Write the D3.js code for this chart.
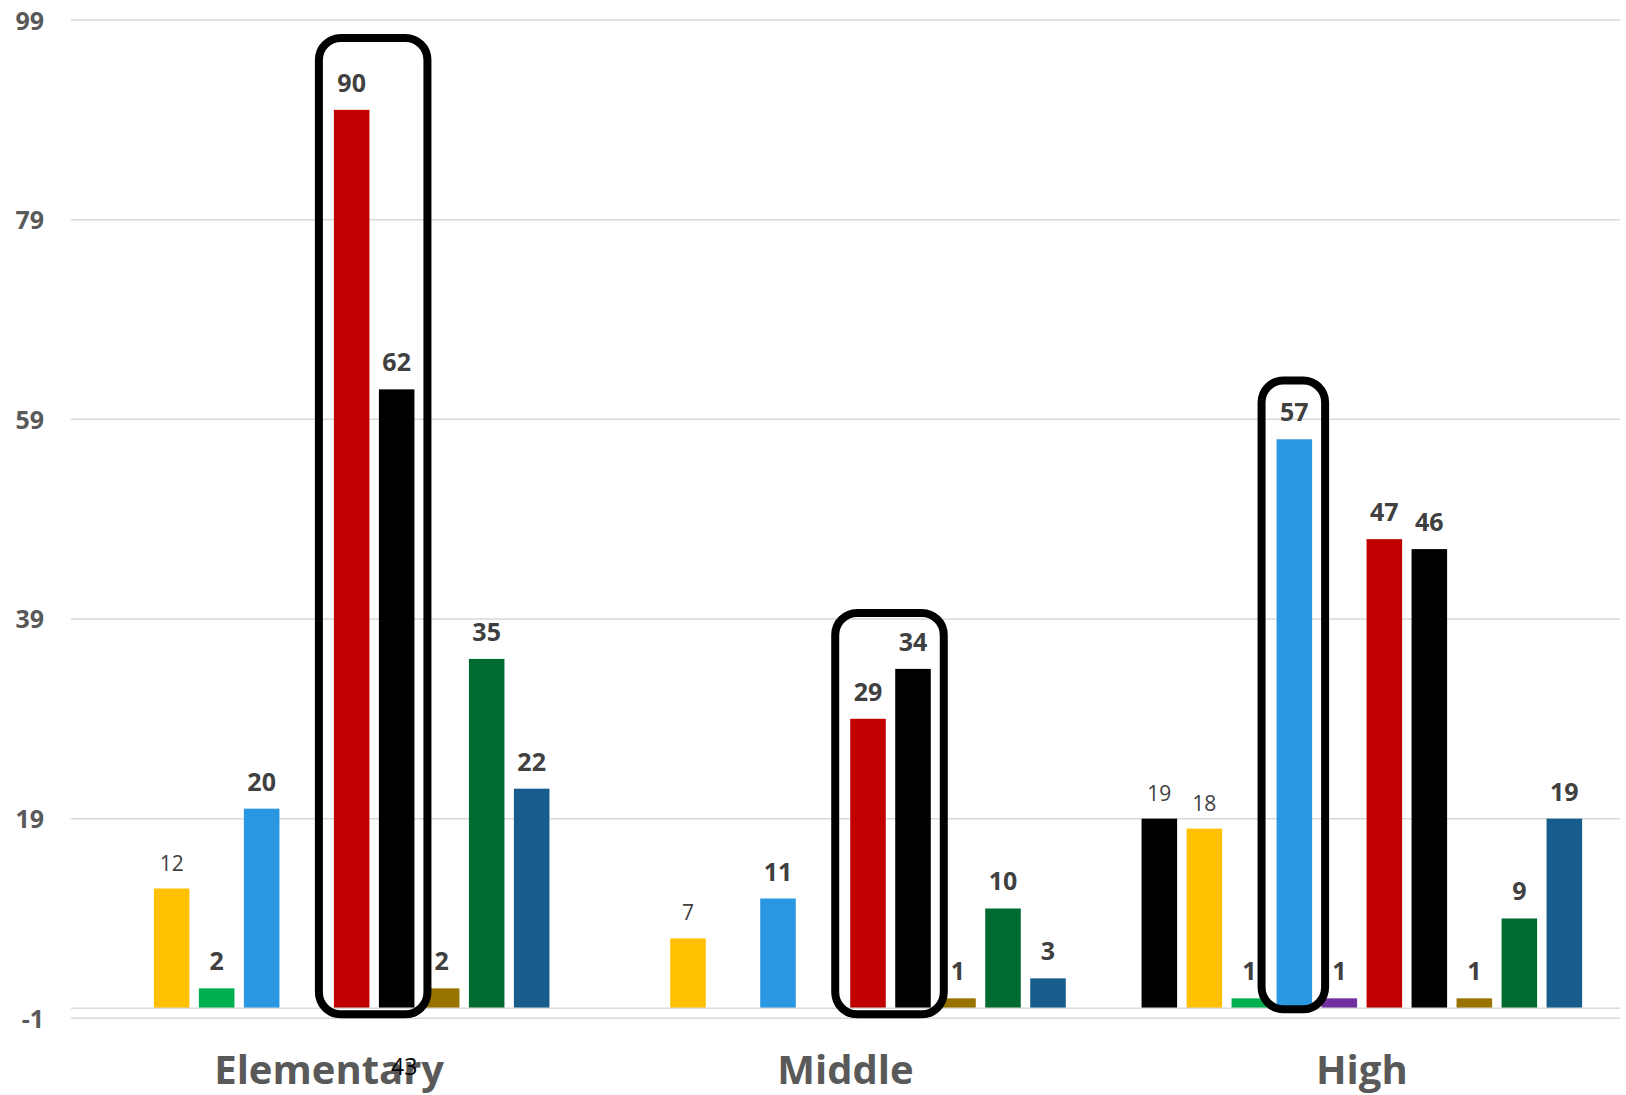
<!DOCTYPE html>
<html>
<head>
<meta charset="utf-8">
<script src="https://cdn.jsdelivr.net/npm/d3@7"></script>
<style>
  html, body { margin: 0; padding: 0; background: #ffffff; }
  svg { display: block; font-family: "Open Sans", Lato, "Noto Sans", sans-serif; }
</style>
</head>
<body>
<svg id="chart" width="1626" height="1095"></svg>
<script>
// School levels on the category axis
const categories = ["Elementary", "Middle", "High"];

// Series keys, drawn left to right inside each level
const seriesKeys = ["s1", "s2", "s3", "s4", "s5", "s6", "s7", "s8", "s9", "s10"];

// Values per series, one entry per level (null = no bar)
const s1  = [null, null, 19];
const s2  = [12, 7, 18];
const s3  = [2, null, 1];
const s4  = [20, 11, 57];
const s5  = [null, null, 1];
const s6  = [90, 29, 47];
const s7  = [62, 34, 46];
const s8  = [2, 1, 1];
const s9  = [35, 10, 9];
const s10 = [22, 3, 19];
const seriesValues = [s1, s2, s3, s4, s5, s6, s7, s8, s9, s10];

// Series fills
const seriesColors = ["#000000", "#FFC000", "#00B050", "#2997E1", "#7030A0",
                      "#C00000", "#000000", "#997300", "#006B31", "#165C8D"];

// Series whose value labels use the lighter weight
const plainLabelSeries = ["s1", "s2"];

// Value axis ticks
const yTicks = [-1, 19, 39, 59, 79, 99];

// Highlight frames: level, first and last series enclosed, top and bottom values
const frameCategory = ["Elementary", "Middle", "High"];
const frameFrom     = ["s6", "s6", "s4"];
const frameTo       = ["s7", "s7", "s4"];
const frameTop      = [97.2, 39.6, 62.9];
const frameBottom   = [-0.6, -0.6, -0.1];

// Free-standing note under the first level
const noteCategory = ["Elementary"];
const noteSeries   = ["s7"];
const noteText     = ["43"];

// ---- layout ----
const W = 1626, H = 1095;
const margin = { top: 20, right: 6, bottom: 76.7, left: 71 };
const FONT = "'Open Sans', Lato, sans-serif";

const svg = d3.select("#chart");

const x0 = d3.scaleBand()
  .domain(categories)
  .range([margin.left, W - margin.right])
  .padding(0);

const x1 = d3.scaleBand()
  .domain(seriesKeys)
  .range([0, x0.bandwidth()])
  .paddingInner(0.21)
  .paddingOuter(0.842);

const y = d3.scaleLinear()
  .domain([-1, 99])
  .range([H - margin.bottom, margin.top]);

// ---- gridlines ----
svg.append("g")
  .selectAll("line")
  .data(yTicks)
  .join("line")
  .attr("x1", margin.left)
  .attr("x2", W - margin.right)
  .attr("y1", d => y(d))
  .attr("y2", d => y(d))
  .attr("stroke", "#d9d9d9")
  .attr("stroke-width", 1.5);

// ---- value axis labels ----
const yAxis = d3.axisLeft(y)
  .tickValues(yTicks)
  .tickFormat(d => String(d))
  .tickSize(0)
  .tickPadding(0);
const yAxisG = svg.append("g")
  .attr("transform", `translate(${margin.left - 27},0)`)
  .call(yAxis);
yAxisG.select(".domain").remove();
yAxisG.selectAll("text")
  .attr("x", 0)
  .attr("dy", "0.36em")
  .attr("fill", "#595959")
  .style("font-family", FONT)
  .style("font-size", "25px")
  .style("font-weight", "700");

// ---- bars ----
const barData = [];
seriesKeys.forEach((k, si) => {
  categories.forEach((c, ci) => {
    const v = seriesValues[si][ci];
    if (v !== null) barData.push({ key: k, cat: c, value: v, color: seriesColors[si] });
  });
});

svg.append("g")
  .selectAll("rect")
  .data(barData)
  .join("rect")
  .attr("x", d => x0(d.cat) + x1(d.key))
  .attr("width", x1.bandwidth())
  .attr("y", d => y(d.value))
  .attr("height", d => y(0) - y(d.value))
  .attr("fill", d => d.color);

// ---- category axis line at zero ----
svg.append("line")
  .attr("x1", margin.left)
  .attr("x2", W - margin.right)
  .attr("y1", y(0))
  .attr("y2", y(0))
  .attr("stroke", "#d9d9d9")
  .attr("stroke-width", 1.5);

// ---- value labels ----
svg.append("g")
  .selectAll("text")
  .data(barData)
  .join("text")
  .attr("x", d => x0(d.cat) + x1(d.key) + x1.bandwidth() / 2)
  .attr("y", d => y(d.value) - 18)
  .attr("text-anchor", "middle")
  .attr("fill", "#404040")
  .style("font-size", d => plainLabelSeries.includes(d.key) ? "21px" : "25px")
  .style("font-weight", d => plainLabelSeries.includes(d.key) ? "400" : "700")
  .text(d => d.value);

// ---- category labels ----
const xAxis = d3.axisBottom(x0).tickSize(0).tickPadding(0);
const xAxisG = svg.append("g")
  .attr("transform", `translate(0,${H - 11})`)
  .call(xAxis);
xAxisG.select(".domain").remove();
xAxisG.selectAll("text")
  .attr("y", 0)
  .attr("dy", 0)
  .attr("fill", "#595959")
  .style("font-family", FONT)
  .style("font-size", "40px")
  .style("font-weight", "700");

// ---- note ----
svg.append("g")
  .selectAll("text")
  .data(noteText.map((t, i) => ({ t, cat: noteCategory[i], key: noteSeries[i] })))
  .join("text")
  .attr("x", d => x0(d.cat) + x1(d.key) + x1.bandwidth() / 2 + 7.5)
  .attr("y", H - 20)
  .attr("text-anchor", "middle")
  .attr("fill", "#000000")
  .style("font-size", "23px")
  .style("font-weight", "400")
  .text(d => d.t);

// ---- highlight frames ----
const padL = 15, padR = 13;
svg.append("g")
  .selectAll("rect")
  .data(frameCategory.map((c, i) => ({
    cat: c, from: frameFrom[i], to: frameTo[i], top: frameTop[i], bottom: frameBottom[i]
  })))
  .join("rect")
  .attr("x", d => x0(d.cat) + x1(d.from) - padL)
  .attr("width", d => (x1(d.to) + x1.bandwidth()) - x1(d.from) + padL + padR)
  .attr("y", d => y(d.top))
  .attr("height", d => y(d.bottom) - y(d.top))
  .attr("rx", 22)
  .attr("ry", 22)
  .attr("fill", "none")
  .attr("stroke", "#000000")
  .attr("stroke-width", 8);
</script>
</body>
</html>
